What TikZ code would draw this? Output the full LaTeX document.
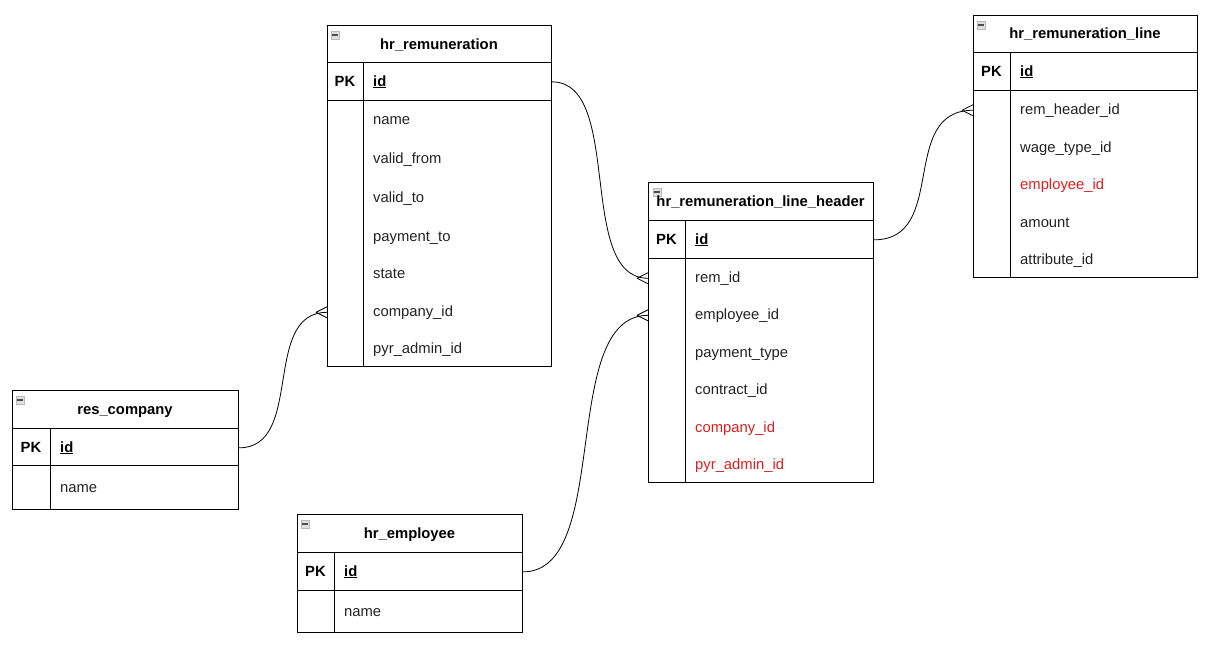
\documentclass[tikz,border=0pt]{standalone}
\usepackage{fontspec}
\setmainfont{Liberation Sans}
\usetikzlibrary{positioning, calc}
\definecolor{fkRed}{RGB}{222,30,30}
\definecolor{txtGray}{RGB}{34,34,34}
\newcommand\tblsize{\fontsize{14.8}{17}\selectfont}
% crow's foot on the many side (line comes in from the left)
\newcommand\crowfoot[1]{\draw[rel] (#1) ++(-11,0) -- ++(11,-5.5) (#1) ++(-11,0) -- ++(11,5.5);}

\begin{document}
\begin{tikzpicture}[x=1pt, y=-1pt,
  frame/.style={draw, line width=0.9pt, anchor=north west, inner sep=0pt},
  sep/.style={line width=0.9pt},
  txt/.style={font=\tblsize, inner sep=0pt, yshift=-2.5pt},
  bold/.style={txt, font=\tblsize\bfseries},
  ttl/.style={bold, anchor=mid},
  pk/.style={bold, anchor=mid},
  key/.style={bold, anchor=mid west},
  fld/.style={txt, text=txtGray, anchor=mid west},
  fk/.style={fld, text=fkRed},
  icon/.style={draw=gray!55, fill=gray!25, minimum size=8.5, inner sep=0pt,
    path picture={\draw[black!70, line width=1.2pt]
      ([xshift=1.5]path picture bounding box.west) --
      ([xshift=-1.5]path picture bounding box.east);}},
  rel/.style={line width=0.8pt},
]
\useasboundingbox (0,0) rectangle (1213,650);

% hr_remuneration
\node[frame, minimum width=224, minimum height=341] (rem) at (327,25) {};
\draw[sep] (327,62) -- (551,62) (327,100) -- (551,100) (363,62) -- (363,366);
\node[icon] (rem-ic) at (335,35) {};
\node[ttl] (rem-t) at (439,44) {hr\_remuneration};
\node[pk] (rem-pk) at (345,81) {PK};
\node[key] (rem-id) at (373,81) {\underline{id}};
\foreach \y/\n/\t in {119/name/name, 158/from/valid\_from, 197/to/valid\_to,
    236/pay/payment\_to, 273/state/state, 311/company/company\_id,
    348/admin/pyr\_admin\_id}
  \node[fld] (rem-\n) at (373,\y) {\t};

% res_company
\node[frame, minimum width=226, minimum height=119] (comp) at (12,390) {};
\draw[sep] (12,428) -- (238,428) (12,465) -- (238,465) (50,428) -- (50,509);
\node[icon] (comp-ic) at (20,400) {};
\node[ttl] (comp-t) at (125,409) {res\_company};
\node[pk] (comp-pk) at (31,447) {PK};
\node[key] (comp-id) at (60,447) {\underline{id}};
\node[fld] (comp-name) at (60,487) {name};

% hr_employee
\node[frame, minimum width=225, minimum height=118] (emp) at (297,514) {};
\draw[sep] (297,552) -- (522,552) (297,590) -- (522,590) (334,552) -- (334,632);
\node[icon] (emp-ic) at (305,524) {};
\node[ttl] (emp-t) at (409.5,533) {hr\_employee};
\node[pk] (emp-pk) at (315.5,571) {PK};
\node[key] (emp-id) at (344,571) {\underline{id}};
\node[fld] (emp-name) at (344,611) {name};

% hr_remuneration_line_header
\node[frame, minimum width=225, minimum height=300] (hdr) at (648,182) {};
\draw[sep] (648,220) -- (873,220) (648,258) -- (873,258) (685,220) -- (685,482);
\node[icon] (hdr-ic) at (657,192) {};
\node[ttl] (hdr-t) at (760.5,201) {hr\_remuneration\_line\_header};
\node[pk] (hdr-pk) at (666.5,239) {PK};
\node[key] (hdr-id) at (695,239) {\underline{id}};
\foreach \y/\n/\t in {277/rem/rem\_id, 314/emp/employee\_id,
    352/pay/payment\_type, 389/contract/contract\_id}
  \node[fld] (hdr-\n) at (695,\y) {\t};
\node[fk] (hdr-company) at (695,427) {company\_id};
\node[fk] (hdr-admin) at (695,464) {pyr\_admin\_id};

% hr_remuneration_line
\node[frame, minimum width=224, minimum height=262] (rln) at (973,15) {};
\draw[sep] (973,52) -- (1197,52) (973,90) -- (1197,90) (1010,52) -- (1010,277);
\node[icon] (rln-ic) at (981,25) {};
\node[ttl] (rln-t) at (1085,33) {hr\_remuneration\_line};
\node[pk] (rln-pk) at (991.5,71) {PK};
\node[key] (rln-id) at (1020,71) {\underline{id}};
\foreach \y/\n/\t in {109/remhdr/rem\_header\_id, 147/wage/wage\_type\_id}
  \node[fld] (rln-\n) at (1020,\y) {\t};
\node[fk] (rln-emp) at (1020,184) {employee\_id};
\node[fld] (rln-amount) at (1020,222) {amount};
\node[fld] (rln-attr) at (1020,259) {attribute\_id};

% relations
\draw[rel] (rem.east |- rem-id) .. controls +(72,0) and +(-72,0) .. (hdr.west |- hdr-rem);
\crowfoot{hdr.west |- hdr-rem}
\draw[rel] (comp.east |- comp-id) .. controls +(66,0) and +(-66,0) .. (rem.west |- rem-company);
\crowfoot{rem.west |- rem-company}
\draw[rel] (emp.east |- emp-id) .. controls +(90,0) and +(-90,0) .. (hdr.west |- hdr-emp);
\crowfoot{hdr.west |- hdr-emp}
\draw[rel] (hdr.east |- hdr-id) .. controls +(75,0) and +(-75,0) .. (rln.west |- rln-remhdr);
\crowfoot{rln.west |- rln-remhdr}
\end{tikzpicture}
\end{document}
